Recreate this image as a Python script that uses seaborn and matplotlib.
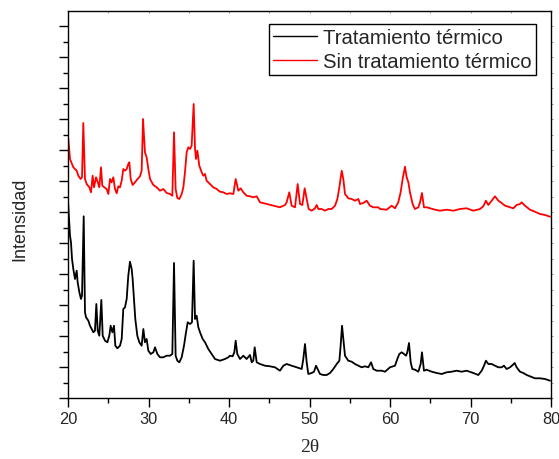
import numpy as np
import pandas as pd
import matplotlib
matplotlib.use("Agg")
import matplotlib.pyplot as plt
from matplotlib.ticker import MultipleLocator, NullFormatter
import seaborn as sns

# ---- data (2theta in degrees, intensity in arbitrary units) ----
series_names = ["Tratamiento térmico", "Sin tratamiento térmico"]
series_colors = ["black", "red"]

theta_sin = [20.04, 20.25, 20.66, 21.08, 21.28, 21.57, 21.74, 21.90, 22.11, 22.32,
             22.65, 22.86, 23.06, 23.23, 23.48, 23.64, 23.89, 24.10, 24.26, 24.51,
             24.80, 25.01, 25.22, 25.42, 25.63, 25.84, 26.05, 26.25, 26.46, 26.67,
             26.87, 27.08, 27.29, 27.49, 27.62, 27.79, 28.03, 28.32, 28.65, 28.94,
             29.15, 29.32, 29.56, 29.77, 29.98, 30.19, 30.60, 31.01, 31.43, 31.84,
             32.26, 32.67, 32.96, 33.17, 33.37, 33.58, 33.83, 34.12, 34.33, 34.53,
             34.74, 34.95, 35.16, 35.36, 35.61, 35.78, 35.90, 36.07, 36.31, 36.61,
             36.81, 37.02, 37.22, 37.64, 38.05, 38.47, 38.88, 39.30, 39.71,
             40.12, 40.54, 40.83, 41.16, 41.45, 41.78, 42.19, 42.61, 43.02, 43.44,
             43.85, 44.68, 45.51, 46.33, 46.96, 47.16, 47.49, 47.78, 48.20, 48.53,
             48.82, 49.11, 49.40, 49.65, 49.90, 50.27, 50.68, 50.89, 51.10, 51.51,
             51.92, 52.34, 52.75, 53.17, 53.46, 53.71, 54.00, 54.20, 54.41, 54.82,
             55.24, 55.65, 56.07, 56.27, 56.69, 57.10, 57.51, 57.93, 58.55,
             58.76, 59.59, 60.21, 60.62, 61.03, 61.32, 61.57, 61.86, 62.07, 62.28,
             62.48, 62.81, 63.10, 63.52, 63.73, 63.97, 64.22, 64.55, 64.97, 65.59,
             66.21, 67.04, 67.87, 68.70, 69.52, 70.35, 71.18, 71.59, 71.92, 72.21,
             72.63, 73.04, 73.46, 73.87, 74.29, 74.91, 75.32, 75.73, 76.15, 76.35,
             76.77, 77.39, 78.01, 78.63, 79.25, 79.88]
int_sin = [259.0, 239.0, 230.7, 227.3, 222.3, 219.0, 220.7, 275.0, 219.0, 214.0,
           210.7, 205.7, 222.3, 210.7, 220.7, 217.3, 210.7, 230.7, 212.3, 210.7,
           209.0, 204.0, 219.0, 215.7, 220.7, 209.0, 204.7, 211.7, 210.7, 217.3,
           229.0, 227.3, 229.0, 234.0, 235.7, 219.0, 213.0, 215.7, 219.0, 221.7,
           227.3, 279.0, 245.7, 240.7, 229.0, 219.0, 213.0, 210.7, 207.3, 209.0,
           205.0, 204.0, 202.3, 265.7, 209.0, 200.0, 199.0, 204.0, 210.7, 225.7,
           245.7, 250.7, 249.0, 252.3, 294.0, 249.0, 239.0, 247.3, 232.3, 225.7,
           222.3, 224.0, 217.3, 214.0, 210.7, 209.0, 206.3, 205.7, 204.0,
           204.7, 204.0, 219.0, 207.3, 209.7, 205.7, 202.3, 201.7, 200.7, 201.7,
           195.7, 194.0, 192.3, 190.7, 193.0, 195.7, 205.7, 192.3, 190.7, 214.0,
           194.0, 193.0, 209.7, 199.0, 189.0, 187.3, 189.7, 193.0, 189.0, 189.0,
           187.3, 189.0, 189.0, 192.3, 199.0, 210.7, 227.3, 219.0, 204.0, 199.7,
           199.0, 197.3, 199.0, 194.0, 195.0, 197.3, 192.3, 190.7, 190.7,
           189.0, 188.3, 192.3, 189.7, 195.7, 205.7, 219.0, 231.3, 220.7, 215.7,
           205.7, 194.0, 189.0, 190.7, 195.7, 205.0, 190.7, 190.7, 189.7, 188.3,
           187.3, 188.3, 187.3, 189.0, 189.7, 187.3, 189.0, 191.7, 197.3, 193.0,
           197.3, 201.7, 197.3, 195.0, 192.3, 190.7, 189.7, 193.0, 194.0, 195.7,
           192.3, 188.3, 186.3, 184.0, 183.0, 181.3]

theta_trat = [20.00, 20.25, 20.37, 20.50, 20.66, 20.87, 21.08, 21.20, 21.41, 21.61,
              21.74, 21.95, 22.11, 22.24, 22.53, 22.73, 22.94, 23.15, 23.35, 23.52,
              23.69, 23.89, 24.14, 24.31, 24.60, 24.89, 25.13, 25.30, 25.51, 25.71,
              25.88, 26.13, 26.46, 26.67, 26.87, 27.08, 27.29, 27.49, 27.70, 27.91,
              28.03, 28.20, 28.36, 28.61, 28.86, 29.15, 29.36, 29.56, 29.77, 29.98,
              30.27, 30.60, 30.81, 31.10, 31.43, 31.84, 32.26, 32.67, 32.96, 33.17,
              33.37, 33.58, 33.83, 34.12, 34.41, 34.66, 34.87, 35.16, 35.40, 35.61,
              35.78, 35.98, 36.19, 36.40, 36.73, 37.02, 37.43, 37.85, 38.26, 38.88,
              39.50, 39.92,
              40.12, 40.45, 40.66, 40.83, 41.03, 41.37, 41.78, 42.19, 42.61, 42.82,
              43.02, 43.19, 43.44, 43.85, 44.47, 45.09, 45.71, 46.33, 46.75, 47.16,
              47.78, 48.41, 49.03, 49.23, 49.44, 49.65, 49.85, 50.27, 50.56, 50.81,
              51.10, 51.30, 51.72, 52.13, 52.55, 52.96, 53.38, 53.71, 53.87, 54.04,
              54.20, 54.41, 54.82, 55.24, 55.65, 56.07, 56.48, 56.89, 57.31, 57.64,
              57.93, 58.34, 58.96,
              59.38, 60.00, 60.62, 60.91, 61.16, 61.45, 61.74, 61.99, 62.15, 62.36,
              62.57, 62.77, 63.10, 63.52, 63.81, 63.97, 64.22, 64.55, 65.18, 65.80,
              66.42, 67.04, 67.66, 68.28, 68.90, 69.52, 70.35, 70.97, 71.39, 71.68,
              71.92, 72.21, 72.63, 73.04, 73.46, 73.87, 74.16, 74.49, 74.91, 75.24,
              75.49, 75.73, 76.15, 76.56, 76.98, 77.39, 77.72, 78.01, 78.63, 79.25,
              79.88]
int_trat = [197.0, 162.3, 155.7, 139.0, 129.0, 119.0, 127.3, 115.7, 105.7, 99.0,
            102.3, 181.7, 85.7, 80.7, 77.3, 72.3, 69.0, 65.7, 67.3, 94.0,
            67.3, 62.3, 98.0, 62.3, 57.3, 55.7, 62.3, 72.3, 65.7, 72.3,
            52.3, 49.7, 52.3, 59.0, 89.0, 90.7, 99.0, 122.3, 136.3, 129.0,
            119.0, 99.0, 79.0, 62.3, 55.7, 52.3, 69.0, 55.7, 59.0, 47.3,
            44.0, 45.7, 50.7, 44.0, 40.7, 40.7, 42.3, 42.3, 44.0, 135.0,
            42.3, 37.3, 35.7, 40.7, 52.3, 65.7, 75.7, 74.0, 75.7, 137.3,
            79.0, 82.3, 70.7, 65.7, 59.0, 55.7, 49.0, 44.0, 39.0, 37.3,
            39.0, 40.7,
            42.3, 41.7, 45.7, 57.3, 44.0, 39.0, 42.3, 39.0, 43.0, 35.7,
            37.3, 50.7, 35.7, 34.0, 32.3, 31.7, 30.7, 27.3, 32.3, 34.0,
            32.3, 30.7, 29.0, 39.0, 54.0, 35.7, 24.0, 25.0, 26.3, 32.3,
            27.3, 24.0, 23.0, 23.0, 25.0, 29.0, 34.0, 37.3, 52.3, 72.3,
            59.0, 42.3, 37.3, 36.3, 34.0, 32.3, 30.7, 31.7, 30.7, 35.7,
            29.0, 27.3, 27.3,
            26.3, 30.7, 32.3, 39.0, 44.0, 45.7, 44.0, 42.3, 45.7, 55.0,
            35.7, 29.0, 28.3, 26.3, 34.0, 45.7, 27.3, 28.3, 26.3, 25.0,
            24.0, 25.7, 26.3, 27.3, 26.3, 27.3, 25.0, 23.0, 27.3, 32.3,
            37.3, 34.0, 34.0, 32.3, 30.7, 30.7, 32.3, 29.0, 30.7, 33.0,
            35.0, 30.7, 26.3, 25.0, 23.0, 21.7, 20.7, 19.7, 19.7, 19.0,
            17.3]

x_ticks = [20, 30, 40, 50, 60, 70, 80]
x_label = "2θ"
y_label = "Intensidad"

# ---- table ----
df = pd.concat([
    pd.DataFrame({"theta": theta_trat, "intensity": int_trat, "serie": series_names[0]}),
    pd.DataFrame({"theta": theta_sin, "intensity": int_sin, "serie": series_names[1]}),
], ignore_index=True)

sns.set_style("ticks")
plt.rcParams["font.family"] = ["Liberation Sans", "DejaVu Sans"]

fig = plt.figure(figsize=(5.59, 4.60), dpi=100)
ax = fig.add_axes([68 / 559, 61 / 460, 483 / 559, 387 / 460])

sns.lineplot(data=df, x="theta", y="intensity", hue="serie",
             hue_order=series_names, palette=dict(zip(series_names, series_colors)),
             estimator=None, sort=False, linewidth=1.3, ax=ax)

ax.set_xlim(20, 80)
ax.set_ylim(0, 387)
ax.xaxis.set_major_locator(MultipleLocator(10))
ax.xaxis.set_minor_locator(MultipleLocator(5))
ax.set_xticks(x_ticks)
ax.yaxis.set_major_locator(MultipleLocator(31))
ax.yaxis.set_minor_locator(MultipleLocator(15.5))
ax.yaxis.set_major_formatter(NullFormatter())

for s in ax.spines.values():
    s.set_visible(True)
    s.set_color("black")
    s.set_linewidth(1.0)

ax.tick_params(axis="both", which="major", direction="out", length=6.5, width=1.0,
               color="black", labelsize=11.8, pad=3)
ax.tick_params(axis="both", which="minor", direction="out", length=3.5, width=1.0,
               color="black")
ax.tick_params(axis="y", which="both", labelleft=False)

# faint ticks on top/right axes
ax2 = ax.secondary_xaxis("top")
ax2.xaxis.set_major_locator(MultipleLocator(5))
ax2.tick_params(direction="in", length=1.5, width=0.6, color="#888888", labeltop=False)
ax2.set_xticklabels([])
ax2.spines["top"].set_visible(False)
ax3 = ax.secondary_yaxis("right")
ax3.yaxis.set_major_locator(MultipleLocator(15.5))
ax3.tick_params(direction="out", length=1.5, width=0.6, color="#888888", labelright=False)
ax3.set_yticklabels([])
ax3.spines["right"].set_visible(False)

ax.set_xlabel(x_label, fontsize=14, family=["Liberation Serif", "DejaVu Serif"])
ax.xaxis.set_label_coords(0.5, -0.104)
ax.set_ylabel(y_label, fontsize=13)
ax.yaxis.set_label_coords(-0.082, 0.465)

leg = ax.legend(loc="upper right", bbox_to_anchor=((536 - 68) / 483, (399 - 25) / 387),
                fontsize=14.6, frameon=True, fancybox=False, handlelength=2.2,
                handletextpad=0.3, borderpad=0.2, labelspacing=0.25,
                borderaxespad=0.0, title=None)
leg.get_frame().set_edgecolor("black")
leg.get_frame().set_linewidth(1.0)
leg.get_frame().set_alpha(1)
for line in leg.get_lines():
    line.set_linewidth(1.0)

fig.savefig("out.png", dpi=100)
